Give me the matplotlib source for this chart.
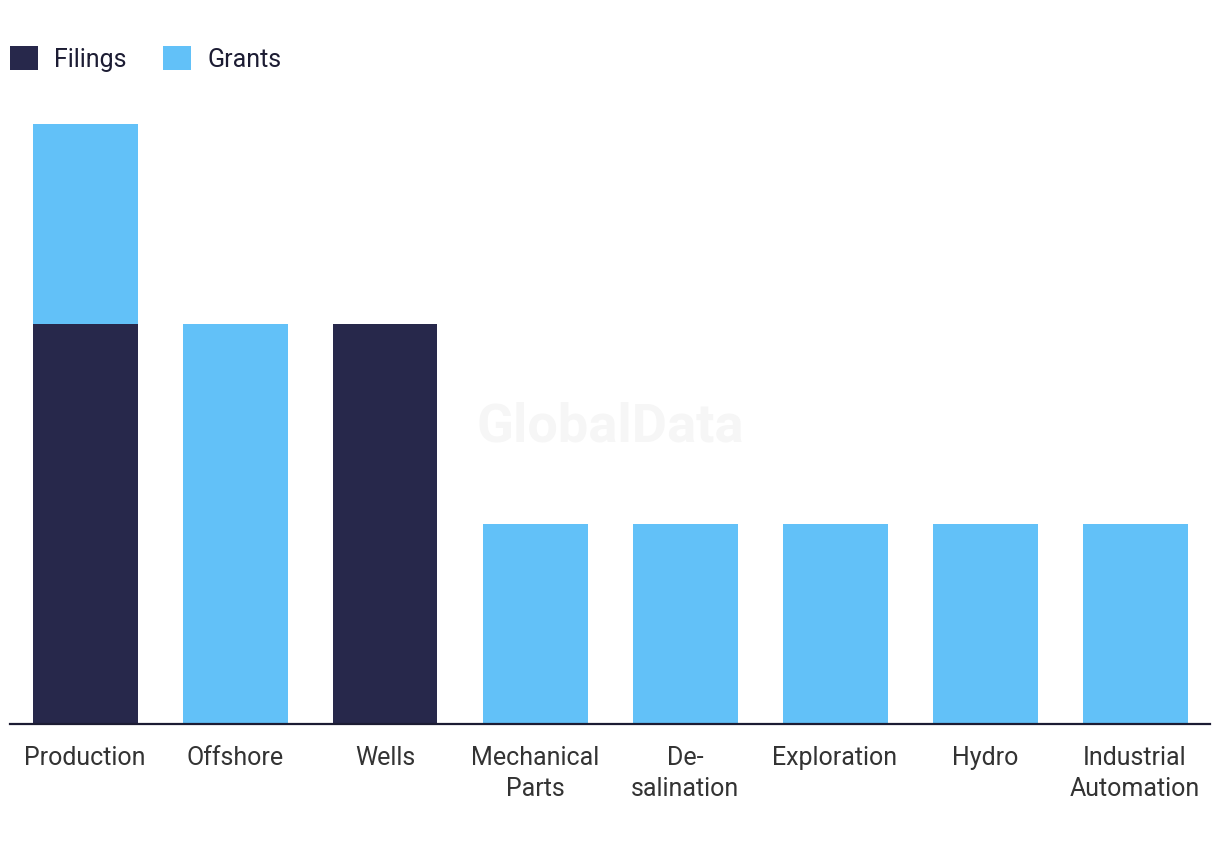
import matplotlib.pyplot as plt
from matplotlib.patches import Patch
import numpy as np

plt.rcParams['font.family'] = ['Roboto', 'DejaVu Sans']

# data
categories = ['Production', 'Offshore', 'Wells', 'Mechanical\nParts', 'De-\nsalination',
              'Exploration', 'Hydro', 'Industrial\nAutomation']
filings = [2, 0, 2, 0, 0, 0, 0, 0]
grants = [1, 2, 0, 1, 1, 1, 1, 1]

FILING_COLOR = '#27284b'
GRANT_COLOR = '#62c1f8'

fig = plt.figure(figsize=(12.2, 8.5), dpi=100)
ax = fig.add_axes([10 / 1220, 126 / 850, 1200 / 1220, 600 / 850])

x = np.arange(len(categories))
ax.bar(x, filings, width=0.7, color=FILING_COLOR, zorder=2)
ax.bar(x, grants, width=0.7, bottom=filings, color=GRANT_COLOR, zorder=2)

ax.set_xlim(-0.5, len(categories) - 0.5)
ax.set_ylim(0, 3)
ax.set_xticks(x)
ax.set_xticklabels(categories, fontsize=18, color='#333333', linespacing=1.35)
ax.tick_params(axis='x', length=0, pad=16)
ax.set_yticks([])
for side in ['left', 'right', 'top']:
    ax.spines[side].set_visible(False)
ax.spines['bottom'].set_color('#1c1c33')
ax.spines['bottom'].set_linewidth(1.6)
ax.spines['bottom'].set_zorder(3)

# watermark
fig.text(610 / 1220, 1 - 427 / 850, 'GlobalData', fontsize=39, fontweight='bold',
         color='#f6f6f6', ha='center', va='center', zorder=1)

handles = [Patch(facecolor=FILING_COLOR, label='Filings'),
           Patch(facecolor=GRANT_COLOR, label='Grants')]
fig.legend(handles=handles, loc='upper left', bbox_to_anchor=(10 / 1220, 1 - 46 / 850),
           ncol=2, frameon=False, fontsize=18, handlelength=1.12, handleheight=1.12,
           handletextpad=0.65, columnspacing=1.45, labelcolor='#1c1c33',
           borderpad=0, borderaxespad=0)

fig.savefig('out.png', dpi=100)
